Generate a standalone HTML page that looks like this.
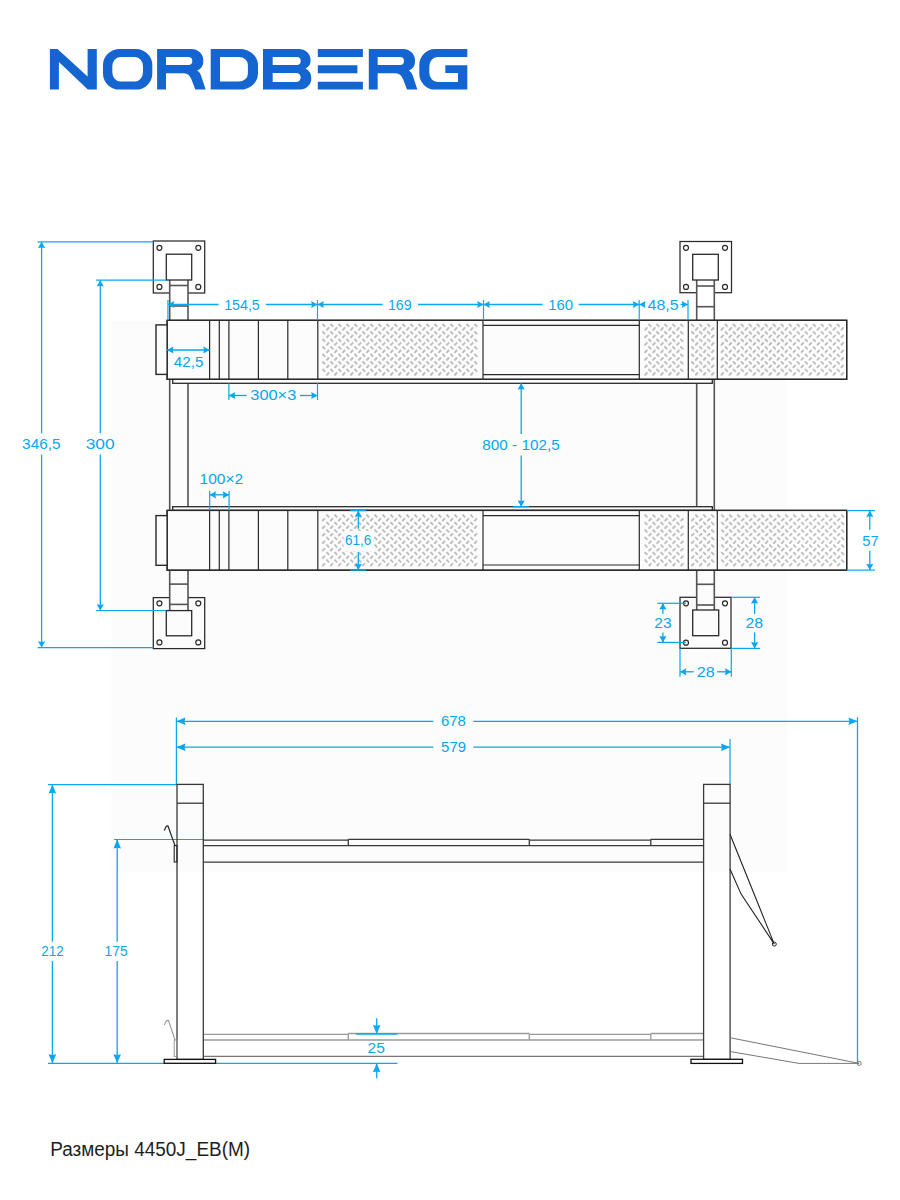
<!DOCTYPE html>
<html><head><meta charset="utf-8"><style>
html,body{margin:0;padding:0;background:#fff;width:900px;height:1200px;overflow:hidden}
svg{display:block;font-family:"Liberation Sans",sans-serif}
</style></head><body>
<svg width="900" height="1200" viewBox="0 0 900 1200">
<path d="M49.9,49 H57.5 L87.6,76.5 V49 H96.8 V89.6 H87.8 L58.9,62.1 V89.6 H49.9 Z" fill="#1565d0"/>
<path d="M119.5,49 H136 A16.3,16 0 0 1 152.3,65 V73.6 A16.3,16 0 0 1 136,89.6 H119.5 A16.5,16 0 0 1 103,73.6 V65 A16.5,16 0 0 1 119.5,49 Z M120.3,57 A8,9.5 0 0 0 112.3,66.5 V72.1 A8,9.5 0 0 0 120.3,81.6 H135 A8,9.5 0 0 0 143,72.1 V66.5 A8,9.5 0 0 0 135,57 Z" fill="#1565d0"/>
<path d="M157.10,49 H191.50 A11.8,11.5 0 0 1 203.30,60.5 A11,10.5 0 0 1 197.20,70.6 Q199.80,72.3 201.00,75.5 L205.70,89.6 H195.30 L191.40,79.2 Q189.00,73.2 184.00,73.2 H166.00 V89.6 H157.10 Z M166.00,56.9 V64.9 H188.30 A4,4 0 0 0 188.30,56.9 Z" fill="#1565d0"/>
<path d="M210.7,49 H240 A18,16 0 0 1 258,65 V73.6 A18,16 0 0 1 240,89.6 H210.7 Z M220,57 V81.6 H238.7 A9.2,8 0 0 0 247.9,73.6 V65 A9.2,8 0 0 0 238.7,57 Z" fill="#1565d0"/>
<path d="M263,49 H299 A11,10.7 0 0 1 310.5,59.5 A10,9 0 0 1 305.5,68.5 A11,11 0 0 1 311.3,78.5 A11.3,11.2 0 0 1 300,89.6 H263 Z M272.7,57 V65 H296.7 A4,4 0 0 0 296.7,57 Z M272.7,73 V82 H296.2 A4.5,4.5 0 0 0 296.2,73 Z" fill="#1565d0"/>
<path d="M317.8,49 H362.9 V57.1 H317.8 Z M317.8,65.3 H357.4 V73.2 H317.8 Z M317.8,81.7 H362.9 V89.6 H317.8 Z" fill="#1565d0"/>
<path d="M368.80,49 H403.20 A11.8,11.5 0 0 1 415.00,60.5 A11,10.5 0 0 1 408.90,70.6 Q411.50,72.3 412.70,75.5 L417.40,89.6 H407.00 L403.10,79.2 Q400.70,73.2 395.70,73.2 H377.70 V89.6 H368.80 Z M377.70,56.9 V64.9 H400.00 A4,4 0 0 0 400.00,56.9 Z" fill="#1565d0"/>
<path d="M435,49 H467.3 V57 H437.5 A8,9.5 0 0 0 429.3,66.5 V72.5 A8,9.5 0 0 0 437.5,82 H458 V73 H445.3 V65.3 H467.3 V89.6 H435 A15.7,16 0 0 1 419.3,73.6 V65 A15.7,16 0 0 1 435,49 Z" fill="#1565d0"/>
<rect x="153.3" y="241" width="51.39999999999998" height="52" stroke="#2a2a2a" stroke-width="1.25" fill="#fff" />
<circle cx="159.4" cy="247.8" r="2.5" stroke="#2a2a2a" stroke-width="1.2" fill="none"/>
<circle cx="198.3" cy="247.8" r="2.5" stroke="#2a2a2a" stroke-width="1.2" fill="none"/>
<circle cx="159.4" cy="286.9" r="2.5" stroke="#2a2a2a" stroke-width="1.2" fill="none"/>
<circle cx="198.3" cy="286.9" r="2.5" stroke="#2a2a2a" stroke-width="1.2" fill="none"/>
<rect x="680" y="241.5" width="51.5" height="51.19999999999999" stroke="#2a2a2a" stroke-width="1.25" fill="#fff" />
<circle cx="686" cy="247.8" r="2.5" stroke="#2a2a2a" stroke-width="1.2" fill="none"/>
<circle cx="725" cy="247.8" r="2.5" stroke="#2a2a2a" stroke-width="1.2" fill="none"/>
<circle cx="686" cy="286.9" r="2.5" stroke="#2a2a2a" stroke-width="1.2" fill="none"/>
<circle cx="725" cy="286.9" r="2.5" stroke="#2a2a2a" stroke-width="1.2" fill="none"/>
<rect x="153.3" y="597.6" width="51.39999999999998" height="51.0" stroke="#2a2a2a" stroke-width="1.25" fill="#fff" />
<circle cx="159.4" cy="603.3" r="2.5" stroke="#2a2a2a" stroke-width="1.2" fill="none"/>
<circle cx="198.3" cy="603.3" r="2.5" stroke="#2a2a2a" stroke-width="1.2" fill="none"/>
<circle cx="159.4" cy="642.4" r="2.5" stroke="#2a2a2a" stroke-width="1.2" fill="none"/>
<circle cx="198.3" cy="642.4" r="2.5" stroke="#2a2a2a" stroke-width="1.2" fill="none"/>
<rect x="680" y="597.3" width="51" height="51.0" stroke="#2a2a2a" stroke-width="1.25" fill="#fff" />
<circle cx="686" cy="603.3" r="2.5" stroke="#2a2a2a" stroke-width="1.2" fill="none"/>
<circle cx="725" cy="603.3" r="2.5" stroke="#2a2a2a" stroke-width="1.2" fill="none"/>
<circle cx="686" cy="642.7" r="2.5" stroke="#2a2a2a" stroke-width="1.2" fill="none"/>
<circle cx="725" cy="642.7" r="2.5" stroke="#2a2a2a" stroke-width="1.2" fill="none"/>
<rect x="169.7" y="280" width="18.30000000000001" height="331" fill="#fff"/>
<line x1="169.7" y1="280" x2="169.7" y2="611" stroke="#555" stroke-width="1.6" />
<line x1="188" y1="280" x2="188" y2="611" stroke="#555" stroke-width="1.6" />
<rect x="696.7" y="280" width="17.59999999999991" height="331" fill="#fff"/>
<line x1="696.7" y1="280" x2="696.7" y2="611" stroke="#555" stroke-width="1.6" />
<line x1="714.3" y1="280" x2="714.3" y2="611" stroke="#555" stroke-width="1.6" />
<line x1="169.7" y1="285.5" x2="188" y2="285.5" stroke="#555" stroke-width="1.6" />
<line x1="169.7" y1="306" x2="188" y2="306" stroke="#555" stroke-width="1.6" />
<line x1="169.7" y1="584.1" x2="188" y2="584.1" stroke="#555" stroke-width="1.6" />
<line x1="169.7" y1="604.4" x2="188" y2="604.4" stroke="#555" stroke-width="1.6" />
<line x1="696.7" y1="286" x2="714.3" y2="286" stroke="#555" stroke-width="1.6" />
<line x1="696.7" y1="306.7" x2="714.3" y2="306.7" stroke="#555" stroke-width="1.6" />
<line x1="696.7" y1="584.3" x2="714.3" y2="584.3" stroke="#555" stroke-width="1.6" />
<line x1="696.7" y1="605" x2="714.3" y2="605" stroke="#555" stroke-width="1.6" />
<rect x="166.3" y="254.2" width="25.4" height="25.8" stroke="#2a2a2a" stroke-width="1.3" fill="#fff" />
<rect x="692.7" y="254.3" width="25.6" height="25.7" stroke="#2a2a2a" stroke-width="1.3" fill="#fff" />
<rect x="166.3" y="610.6" width="25.4" height="25.2" stroke="#2a2a2a" stroke-width="1.3" fill="#fff" />
<rect x="692.7" y="610" width="26" height="25.7" stroke="#2a2a2a" stroke-width="1.3" fill="#fff" />
<rect x="172.7" y="379.3" width="539.5999999999999" height="4.0" stroke="#2a2a2a" stroke-width="1.3" fill="#fff" />
<rect x="167.1" y="320.3" width="679.6" height="59.0" stroke="#2a2a2a" stroke-width="1.3" fill="#fff" />
<path d="M323.00,324.45l1.60,1.70M331.00,324.45l1.60,1.70M339.00,324.45l1.60,1.70M347.00,324.45l1.60,1.70M355.00,324.45l1.60,1.70M363.00,324.45l1.60,1.70M371.00,324.45l1.60,1.70M379.00,324.45l1.60,1.70M387.00,324.45l1.60,1.70M395.00,324.45l1.60,1.70M403.00,324.45l1.60,1.70M411.00,324.45l1.60,1.70M419.00,324.45l1.60,1.70M427.00,324.45l1.60,1.70M435.00,324.45l1.60,1.70M443.00,324.45l1.60,1.70M451.00,324.45l1.60,1.70M459.00,324.45l1.60,1.70M467.00,324.45l1.60,1.70M475.00,324.45l1.60,1.70M323.00,331.95l1.60,1.70M331.00,331.95l1.60,1.70M339.00,331.95l1.60,1.70M347.00,331.95l1.60,1.70M355.00,331.95l1.60,1.70M363.00,331.95l1.60,1.70M371.00,331.95l1.60,1.70M379.00,331.95l1.60,1.70M387.00,331.95l1.60,1.70M395.00,331.95l1.60,1.70M403.00,331.95l1.60,1.70M411.00,331.95l1.60,1.70M419.00,331.95l1.60,1.70M427.00,331.95l1.60,1.70M435.00,331.95l1.60,1.70M443.00,331.95l1.60,1.70M451.00,331.95l1.60,1.70M459.00,331.95l1.60,1.70M467.00,331.95l1.60,1.70M475.00,331.95l1.60,1.70M323.00,339.45l1.60,1.70M331.00,339.45l1.60,1.70M339.00,339.45l1.60,1.70M347.00,339.45l1.60,1.70M355.00,339.45l1.60,1.70M363.00,339.45l1.60,1.70M371.00,339.45l1.60,1.70M379.00,339.45l1.60,1.70M387.00,339.45l1.60,1.70M395.00,339.45l1.60,1.70M403.00,339.45l1.60,1.70M411.00,339.45l1.60,1.70M419.00,339.45l1.60,1.70M427.00,339.45l1.60,1.70M435.00,339.45l1.60,1.70M443.00,339.45l1.60,1.70M451.00,339.45l1.60,1.70M459.00,339.45l1.60,1.70M467.00,339.45l1.60,1.70M475.00,339.45l1.60,1.70M323.00,346.95l1.60,1.70M331.00,346.95l1.60,1.70M339.00,346.95l1.60,1.70M347.00,346.95l1.60,1.70M355.00,346.95l1.60,1.70M363.00,346.95l1.60,1.70M371.00,346.95l1.60,1.70M379.00,346.95l1.60,1.70M387.00,346.95l1.60,1.70M395.00,346.95l1.60,1.70M403.00,346.95l1.60,1.70M411.00,346.95l1.60,1.70M419.00,346.95l1.60,1.70M427.00,346.95l1.60,1.70M435.00,346.95l1.60,1.70M443.00,346.95l1.60,1.70M451.00,346.95l1.60,1.70M459.00,346.95l1.60,1.70M467.00,346.95l1.60,1.70M475.00,346.95l1.60,1.70M323.00,354.45l1.60,1.70M331.00,354.45l1.60,1.70M339.00,354.45l1.60,1.70M347.00,354.45l1.60,1.70M355.00,354.45l1.60,1.70M363.00,354.45l1.60,1.70M371.00,354.45l1.60,1.70M379.00,354.45l1.60,1.70M387.00,354.45l1.60,1.70M395.00,354.45l1.60,1.70M403.00,354.45l1.60,1.70M411.00,354.45l1.60,1.70M419.00,354.45l1.60,1.70M427.00,354.45l1.60,1.70M435.00,354.45l1.60,1.70M443.00,354.45l1.60,1.70M451.00,354.45l1.60,1.70M459.00,354.45l1.60,1.70M467.00,354.45l1.60,1.70M475.00,354.45l1.60,1.70M323.00,361.95l1.60,1.70M331.00,361.95l1.60,1.70M339.00,361.95l1.60,1.70M347.00,361.95l1.60,1.70M355.00,361.95l1.60,1.70M363.00,361.95l1.60,1.70M371.00,361.95l1.60,1.70M379.00,361.95l1.60,1.70M387.00,361.95l1.60,1.70M395.00,361.95l1.60,1.70M403.00,361.95l1.60,1.70M411.00,361.95l1.60,1.70M419.00,361.95l1.60,1.70M427.00,361.95l1.60,1.70M435.00,361.95l1.60,1.70M443.00,361.95l1.60,1.70M451.00,361.95l1.60,1.70M459.00,361.95l1.60,1.70M467.00,361.95l1.60,1.70M475.00,361.95l1.60,1.70M323.00,369.45l1.60,1.70M331.00,369.45l1.60,1.70M339.00,369.45l1.60,1.70M347.00,369.45l1.60,1.70M355.00,369.45l1.60,1.70M363.00,369.45l1.60,1.70M371.00,369.45l1.60,1.70M379.00,369.45l1.60,1.70M387.00,369.45l1.60,1.70M395.00,369.45l1.60,1.70M403.00,369.45l1.60,1.70M411.00,369.45l1.60,1.70M419.00,369.45l1.60,1.70M427.00,369.45l1.60,1.70M435.00,369.45l1.60,1.70M443.00,369.45l1.60,1.70M451.00,369.45l1.60,1.70M459.00,369.45l1.60,1.70M467.00,369.45l1.60,1.70M475.00,369.45l1.60,1.70M327.00,329.75l1.60,-1.70M335.00,329.75l1.60,-1.70M343.00,329.75l1.60,-1.70M351.00,329.75l1.60,-1.70M359.00,329.75l1.60,-1.70M367.00,329.75l1.60,-1.70M375.00,329.75l1.60,-1.70M383.00,329.75l1.60,-1.70M391.00,329.75l1.60,-1.70M399.00,329.75l1.60,-1.70M407.00,329.75l1.60,-1.70M415.00,329.75l1.60,-1.70M423.00,329.75l1.60,-1.70M431.00,329.75l1.60,-1.70M439.00,329.75l1.60,-1.70M447.00,329.75l1.60,-1.70M455.00,329.75l1.60,-1.70M463.00,329.75l1.60,-1.70M471.00,329.75l1.60,-1.70M327.00,337.25l1.60,-1.70M335.00,337.25l1.60,-1.70M343.00,337.25l1.60,-1.70M351.00,337.25l1.60,-1.70M359.00,337.25l1.60,-1.70M367.00,337.25l1.60,-1.70M375.00,337.25l1.60,-1.70M383.00,337.25l1.60,-1.70M391.00,337.25l1.60,-1.70M399.00,337.25l1.60,-1.70M407.00,337.25l1.60,-1.70M415.00,337.25l1.60,-1.70M423.00,337.25l1.60,-1.70M431.00,337.25l1.60,-1.70M439.00,337.25l1.60,-1.70M447.00,337.25l1.60,-1.70M455.00,337.25l1.60,-1.70M463.00,337.25l1.60,-1.70M471.00,337.25l1.60,-1.70M327.00,344.75l1.60,-1.70M335.00,344.75l1.60,-1.70M343.00,344.75l1.60,-1.70M351.00,344.75l1.60,-1.70M359.00,344.75l1.60,-1.70M367.00,344.75l1.60,-1.70M375.00,344.75l1.60,-1.70M383.00,344.75l1.60,-1.70M391.00,344.75l1.60,-1.70M399.00,344.75l1.60,-1.70M407.00,344.75l1.60,-1.70M415.00,344.75l1.60,-1.70M423.00,344.75l1.60,-1.70M431.00,344.75l1.60,-1.70M439.00,344.75l1.60,-1.70M447.00,344.75l1.60,-1.70M455.00,344.75l1.60,-1.70M463.00,344.75l1.60,-1.70M471.00,344.75l1.60,-1.70M327.00,352.25l1.60,-1.70M335.00,352.25l1.60,-1.70M343.00,352.25l1.60,-1.70M351.00,352.25l1.60,-1.70M359.00,352.25l1.60,-1.70M367.00,352.25l1.60,-1.70M375.00,352.25l1.60,-1.70M383.00,352.25l1.60,-1.70M391.00,352.25l1.60,-1.70M399.00,352.25l1.60,-1.70M407.00,352.25l1.60,-1.70M415.00,352.25l1.60,-1.70M423.00,352.25l1.60,-1.70M431.00,352.25l1.60,-1.70M439.00,352.25l1.60,-1.70M447.00,352.25l1.60,-1.70M455.00,352.25l1.60,-1.70M463.00,352.25l1.60,-1.70M471.00,352.25l1.60,-1.70M327.00,359.75l1.60,-1.70M335.00,359.75l1.60,-1.70M343.00,359.75l1.60,-1.70M351.00,359.75l1.60,-1.70M359.00,359.75l1.60,-1.70M367.00,359.75l1.60,-1.70M375.00,359.75l1.60,-1.70M383.00,359.75l1.60,-1.70M391.00,359.75l1.60,-1.70M399.00,359.75l1.60,-1.70M407.00,359.75l1.60,-1.70M415.00,359.75l1.60,-1.70M423.00,359.75l1.60,-1.70M431.00,359.75l1.60,-1.70M439.00,359.75l1.60,-1.70M447.00,359.75l1.60,-1.70M455.00,359.75l1.60,-1.70M463.00,359.75l1.60,-1.70M471.00,359.75l1.60,-1.70M327.00,367.25l1.60,-1.70M335.00,367.25l1.60,-1.70M343.00,367.25l1.60,-1.70M351.00,367.25l1.60,-1.70M359.00,367.25l1.60,-1.70M367.00,367.25l1.60,-1.70M375.00,367.25l1.60,-1.70M383.00,367.25l1.60,-1.70M391.00,367.25l1.60,-1.70M399.00,367.25l1.60,-1.70M407.00,367.25l1.60,-1.70M415.00,367.25l1.60,-1.70M423.00,367.25l1.60,-1.70M431.00,367.25l1.60,-1.70M439.00,367.25l1.60,-1.70M447.00,367.25l1.60,-1.70M455.00,367.25l1.60,-1.70M463.00,367.25l1.60,-1.70M471.00,367.25l1.60,-1.70M327.00,374.75l1.60,-1.70M335.00,374.75l1.60,-1.70M343.00,374.75l1.60,-1.70M351.00,374.75l1.60,-1.70M359.00,374.75l1.60,-1.70M367.00,374.75l1.60,-1.70M375.00,374.75l1.60,-1.70M383.00,374.75l1.60,-1.70M391.00,374.75l1.60,-1.70M399.00,374.75l1.60,-1.70M407.00,374.75l1.60,-1.70M415.00,374.75l1.60,-1.70M423.00,374.75l1.60,-1.70M431.00,374.75l1.60,-1.70M439.00,374.75l1.60,-1.70M447.00,374.75l1.60,-1.70M455.00,374.75l1.60,-1.70M463.00,374.75l1.60,-1.70M471.00,374.75l1.60,-1.70" stroke="#c2c2c2" stroke-width="2.0" stroke-linecap="round" fill="none"/>
<path d="M649.00,324.45l1.60,1.70M657.00,324.45l1.60,1.70M665.00,324.45l1.60,1.70M673.00,324.45l1.60,1.70M681.00,324.45l1.60,1.70M649.00,331.95l1.60,1.70M657.00,331.95l1.60,1.70M665.00,331.95l1.60,1.70M673.00,331.95l1.60,1.70M681.00,331.95l1.60,1.70M649.00,339.45l1.60,1.70M657.00,339.45l1.60,1.70M665.00,339.45l1.60,1.70M673.00,339.45l1.60,1.70M681.00,339.45l1.60,1.70M649.00,346.95l1.60,1.70M657.00,346.95l1.60,1.70M665.00,346.95l1.60,1.70M673.00,346.95l1.60,1.70M681.00,346.95l1.60,1.70M649.00,354.45l1.60,1.70M657.00,354.45l1.60,1.70M665.00,354.45l1.60,1.70M673.00,354.45l1.60,1.70M681.00,354.45l1.60,1.70M649.00,361.95l1.60,1.70M657.00,361.95l1.60,1.70M665.00,361.95l1.60,1.70M673.00,361.95l1.60,1.70M681.00,361.95l1.60,1.70M649.00,369.45l1.60,1.70M657.00,369.45l1.60,1.70M665.00,369.45l1.60,1.70M673.00,369.45l1.60,1.70M681.00,369.45l1.60,1.70M645.20,329.75l1.60,-1.70M653.20,329.75l1.60,-1.70M661.20,329.75l1.60,-1.70M669.20,329.75l1.60,-1.70M677.20,329.75l1.60,-1.70M645.20,337.25l1.60,-1.70M653.20,337.25l1.60,-1.70M661.20,337.25l1.60,-1.70M669.20,337.25l1.60,-1.70M677.20,337.25l1.60,-1.70M645.20,344.75l1.60,-1.70M653.20,344.75l1.60,-1.70M661.20,344.75l1.60,-1.70M669.20,344.75l1.60,-1.70M677.20,344.75l1.60,-1.70M645.20,352.25l1.60,-1.70M653.20,352.25l1.60,-1.70M661.20,352.25l1.60,-1.70M669.20,352.25l1.60,-1.70M677.20,352.25l1.60,-1.70M645.20,359.75l1.60,-1.70M653.20,359.75l1.60,-1.70M661.20,359.75l1.60,-1.70M669.20,359.75l1.60,-1.70M677.20,359.75l1.60,-1.70M645.20,367.25l1.60,-1.70M653.20,367.25l1.60,-1.70M661.20,367.25l1.60,-1.70M669.20,367.25l1.60,-1.70M677.20,367.25l1.60,-1.70M645.20,374.75l1.60,-1.70M653.20,374.75l1.60,-1.70M661.20,374.75l1.60,-1.70M669.20,374.75l1.60,-1.70M677.20,374.75l1.60,-1.70" stroke="#c2c2c2" stroke-width="2.0" stroke-linecap="round" fill="none"/>
<path d="M691.90,324.45l1.60,1.70M699.90,324.45l1.60,1.70M707.90,324.45l1.60,1.70M691.90,331.95l1.60,1.70M699.90,331.95l1.60,1.70M707.90,331.95l1.60,1.70M691.90,339.45l1.60,1.70M699.90,339.45l1.60,1.70M707.90,339.45l1.60,1.70M691.90,346.95l1.60,1.70M699.90,346.95l1.60,1.70M707.90,346.95l1.60,1.70M691.90,354.45l1.60,1.70M699.90,354.45l1.60,1.70M707.90,354.45l1.60,1.70M691.90,361.95l1.60,1.70M699.90,361.95l1.60,1.70M707.90,361.95l1.60,1.70M691.90,369.45l1.60,1.70M699.90,369.45l1.60,1.70M707.90,369.45l1.60,1.70M695.90,329.75l1.60,-1.70M703.90,329.75l1.60,-1.70M711.90,329.75l1.60,-1.70M695.90,337.25l1.60,-1.70M703.90,337.25l1.60,-1.70M711.90,337.25l1.60,-1.70M695.90,344.75l1.60,-1.70M703.90,344.75l1.60,-1.70M711.90,344.75l1.60,-1.70M695.90,352.25l1.60,-1.70M703.90,352.25l1.60,-1.70M711.90,352.25l1.60,-1.70M695.90,359.75l1.60,-1.70M703.90,359.75l1.60,-1.70M711.90,359.75l1.60,-1.70M695.90,367.25l1.60,-1.70M703.90,367.25l1.60,-1.70M711.90,367.25l1.60,-1.70M695.90,374.75l1.60,-1.70M703.90,374.75l1.60,-1.70M711.90,374.75l1.60,-1.70" stroke="#c2c2c2" stroke-width="2.0" stroke-linecap="round" fill="none"/>
<path d="M725.50,324.45l1.60,1.70M733.50,324.45l1.60,1.70M741.50,324.45l1.60,1.70M749.50,324.45l1.60,1.70M757.50,324.45l1.60,1.70M765.50,324.45l1.60,1.70M773.50,324.45l1.60,1.70M781.50,324.45l1.60,1.70M789.50,324.45l1.60,1.70M797.50,324.45l1.60,1.70M805.50,324.45l1.60,1.70M813.50,324.45l1.60,1.70M821.50,324.45l1.60,1.70M829.50,324.45l1.60,1.70M837.50,324.45l1.60,1.70M725.50,331.95l1.60,1.70M733.50,331.95l1.60,1.70M741.50,331.95l1.60,1.70M749.50,331.95l1.60,1.70M757.50,331.95l1.60,1.70M765.50,331.95l1.60,1.70M773.50,331.95l1.60,1.70M781.50,331.95l1.60,1.70M789.50,331.95l1.60,1.70M797.50,331.95l1.60,1.70M805.50,331.95l1.60,1.70M813.50,331.95l1.60,1.70M821.50,331.95l1.60,1.70M829.50,331.95l1.60,1.70M837.50,331.95l1.60,1.70M725.50,339.45l1.60,1.70M733.50,339.45l1.60,1.70M741.50,339.45l1.60,1.70M749.50,339.45l1.60,1.70M757.50,339.45l1.60,1.70M765.50,339.45l1.60,1.70M773.50,339.45l1.60,1.70M781.50,339.45l1.60,1.70M789.50,339.45l1.60,1.70M797.50,339.45l1.60,1.70M805.50,339.45l1.60,1.70M813.50,339.45l1.60,1.70M821.50,339.45l1.60,1.70M829.50,339.45l1.60,1.70M837.50,339.45l1.60,1.70M725.50,346.95l1.60,1.70M733.50,346.95l1.60,1.70M741.50,346.95l1.60,1.70M749.50,346.95l1.60,1.70M757.50,346.95l1.60,1.70M765.50,346.95l1.60,1.70M773.50,346.95l1.60,1.70M781.50,346.95l1.60,1.70M789.50,346.95l1.60,1.70M797.50,346.95l1.60,1.70M805.50,346.95l1.60,1.70M813.50,346.95l1.60,1.70M821.50,346.95l1.60,1.70M829.50,346.95l1.60,1.70M837.50,346.95l1.60,1.70M725.50,354.45l1.60,1.70M733.50,354.45l1.60,1.70M741.50,354.45l1.60,1.70M749.50,354.45l1.60,1.70M757.50,354.45l1.60,1.70M765.50,354.45l1.60,1.70M773.50,354.45l1.60,1.70M781.50,354.45l1.60,1.70M789.50,354.45l1.60,1.70M797.50,354.45l1.60,1.70M805.50,354.45l1.60,1.70M813.50,354.45l1.60,1.70M821.50,354.45l1.60,1.70M829.50,354.45l1.60,1.70M837.50,354.45l1.60,1.70M725.50,361.95l1.60,1.70M733.50,361.95l1.60,1.70M741.50,361.95l1.60,1.70M749.50,361.95l1.60,1.70M757.50,361.95l1.60,1.70M765.50,361.95l1.60,1.70M773.50,361.95l1.60,1.70M781.50,361.95l1.60,1.70M789.50,361.95l1.60,1.70M797.50,361.95l1.60,1.70M805.50,361.95l1.60,1.70M813.50,361.95l1.60,1.70M821.50,361.95l1.60,1.70M829.50,361.95l1.60,1.70M837.50,361.95l1.60,1.70M725.50,369.45l1.60,1.70M733.50,369.45l1.60,1.70M741.50,369.45l1.60,1.70M749.50,369.45l1.60,1.70M757.50,369.45l1.60,1.70M765.50,369.45l1.60,1.70M773.50,369.45l1.60,1.70M781.50,369.45l1.60,1.70M789.50,369.45l1.60,1.70M797.50,369.45l1.60,1.70M805.50,369.45l1.60,1.70M813.50,369.45l1.60,1.70M821.50,369.45l1.60,1.70M829.50,369.45l1.60,1.70M837.50,369.45l1.60,1.70M721.50,329.75l1.60,-1.70M729.50,329.75l1.60,-1.70M737.50,329.75l1.60,-1.70M745.50,329.75l1.60,-1.70M753.50,329.75l1.60,-1.70M761.50,329.75l1.60,-1.70M769.50,329.75l1.60,-1.70M777.50,329.75l1.60,-1.70M785.50,329.75l1.60,-1.70M793.50,329.75l1.60,-1.70M801.50,329.75l1.60,-1.70M809.50,329.75l1.60,-1.70M817.50,329.75l1.60,-1.70M825.50,329.75l1.60,-1.70M833.50,329.75l1.60,-1.70M841.50,329.75l1.60,-1.70M721.50,337.25l1.60,-1.70M729.50,337.25l1.60,-1.70M737.50,337.25l1.60,-1.70M745.50,337.25l1.60,-1.70M753.50,337.25l1.60,-1.70M761.50,337.25l1.60,-1.70M769.50,337.25l1.60,-1.70M777.50,337.25l1.60,-1.70M785.50,337.25l1.60,-1.70M793.50,337.25l1.60,-1.70M801.50,337.25l1.60,-1.70M809.50,337.25l1.60,-1.70M817.50,337.25l1.60,-1.70M825.50,337.25l1.60,-1.70M833.50,337.25l1.60,-1.70M841.50,337.25l1.60,-1.70M721.50,344.75l1.60,-1.70M729.50,344.75l1.60,-1.70M737.50,344.75l1.60,-1.70M745.50,344.75l1.60,-1.70M753.50,344.75l1.60,-1.70M761.50,344.75l1.60,-1.70M769.50,344.75l1.60,-1.70M777.50,344.75l1.60,-1.70M785.50,344.75l1.60,-1.70M793.50,344.75l1.60,-1.70M801.50,344.75l1.60,-1.70M809.50,344.75l1.60,-1.70M817.50,344.75l1.60,-1.70M825.50,344.75l1.60,-1.70M833.50,344.75l1.60,-1.70M841.50,344.75l1.60,-1.70M721.50,352.25l1.60,-1.70M729.50,352.25l1.60,-1.70M737.50,352.25l1.60,-1.70M745.50,352.25l1.60,-1.70M753.50,352.25l1.60,-1.70M761.50,352.25l1.60,-1.70M769.50,352.25l1.60,-1.70M777.50,352.25l1.60,-1.70M785.50,352.25l1.60,-1.70M793.50,352.25l1.60,-1.70M801.50,352.25l1.60,-1.70M809.50,352.25l1.60,-1.70M817.50,352.25l1.60,-1.70M825.50,352.25l1.60,-1.70M833.50,352.25l1.60,-1.70M841.50,352.25l1.60,-1.70M721.50,359.75l1.60,-1.70M729.50,359.75l1.60,-1.70M737.50,359.75l1.60,-1.70M745.50,359.75l1.60,-1.70M753.50,359.75l1.60,-1.70M761.50,359.75l1.60,-1.70M769.50,359.75l1.60,-1.70M777.50,359.75l1.60,-1.70M785.50,359.75l1.60,-1.70M793.50,359.75l1.60,-1.70M801.50,359.75l1.60,-1.70M809.50,359.75l1.60,-1.70M817.50,359.75l1.60,-1.70M825.50,359.75l1.60,-1.70M833.50,359.75l1.60,-1.70M841.50,359.75l1.60,-1.70M721.50,367.25l1.60,-1.70M729.50,367.25l1.60,-1.70M737.50,367.25l1.60,-1.70M745.50,367.25l1.60,-1.70M753.50,367.25l1.60,-1.70M761.50,367.25l1.60,-1.70M769.50,367.25l1.60,-1.70M777.50,367.25l1.60,-1.70M785.50,367.25l1.60,-1.70M793.50,367.25l1.60,-1.70M801.50,367.25l1.60,-1.70M809.50,367.25l1.60,-1.70M817.50,367.25l1.60,-1.70M825.50,367.25l1.60,-1.70M833.50,367.25l1.60,-1.70M841.50,367.25l1.60,-1.70M721.50,374.75l1.60,-1.70M729.50,374.75l1.60,-1.70M737.50,374.75l1.60,-1.70M745.50,374.75l1.60,-1.70M753.50,374.75l1.60,-1.70M761.50,374.75l1.60,-1.70M769.50,374.75l1.60,-1.70M777.50,374.75l1.60,-1.70M785.50,374.75l1.60,-1.70M793.50,374.75l1.60,-1.70M801.50,374.75l1.60,-1.70M809.50,374.75l1.60,-1.70M817.50,374.75l1.60,-1.70M825.50,374.75l1.60,-1.70M833.50,374.75l1.60,-1.70M841.50,374.75l1.60,-1.70" stroke="#c2c2c2" stroke-width="2.0" stroke-linecap="round" fill="none"/>
<rect x="167.1" y="320.3" width="679.6" height="59.0" stroke="#2a2a2a" stroke-width="1.3" fill="none" />
<rect x="156" y="324.9" width="11.1" height="49.5" stroke="#2a2a2a" stroke-width="1.4" fill="#fff" />
<line x1="209.6" y1="320.3" x2="209.6" y2="379.3" stroke="#2a2a2a" stroke-width="1.2" />
<line x1="219.3" y1="320.3" x2="219.3" y2="379.3" stroke="#2a2a2a" stroke-width="1.2" />
<line x1="228.9" y1="320.3" x2="228.9" y2="379.3" stroke="#2a2a2a" stroke-width="1.2" />
<line x1="258.4" y1="320.3" x2="258.4" y2="379.3" stroke="#2a2a2a" stroke-width="1.2" />
<line x1="287.8" y1="320.3" x2="287.8" y2="379.3" stroke="#2a2a2a" stroke-width="1.2" />
<line x1="317.8" y1="320.3" x2="317.8" y2="379.3" stroke="#2a2a2a" stroke-width="1.2" />
<line x1="483" y1="320.3" x2="483" y2="379.3" stroke="#2a2a2a" stroke-width="1.2" />
<line x1="639.3" y1="320.3" x2="639.3" y2="379.3" stroke="#2a2a2a" stroke-width="1.2" />
<line x1="688.3" y1="320.3" x2="688.3" y2="379.3" stroke="#2a2a2a" stroke-width="1.2" />
<line x1="717.3" y1="320.3" x2="717.3" y2="379.3" stroke="#2a2a2a" stroke-width="1.2" />
<line x1="483" y1="325.3" x2="639.3" y2="325.3" stroke="#2a2a2a" stroke-width="1.2" />
<line x1="483" y1="374.6" x2="639.3" y2="374.6" stroke="#2a2a2a" stroke-width="1.2" />
<rect x="172.7" y="506.7" width="539.5999999999999" height="3.6999999999999886" stroke="#2a2a2a" stroke-width="1.3" fill="#fff" />
<rect x="167.1" y="510.4" width="679.6" height="59.80000000000007" stroke="#2a2a2a" stroke-width="1.3" fill="#fff" />
<path d="M327.00,515.15l1.60,1.70M335.00,515.15l1.60,1.70M343.00,515.15l1.60,1.70M351.00,515.15l1.60,1.70M359.00,515.15l1.60,1.70M367.00,515.15l1.60,1.70M375.00,515.15l1.60,1.70M383.00,515.15l1.60,1.70M391.00,515.15l1.60,1.70M399.00,515.15l1.60,1.70M407.00,515.15l1.60,1.70M415.00,515.15l1.60,1.70M423.00,515.15l1.60,1.70M431.00,515.15l1.60,1.70M439.00,515.15l1.60,1.70M447.00,515.15l1.60,1.70M455.00,515.15l1.60,1.70M463.00,515.15l1.60,1.70M471.00,515.15l1.60,1.70M327.00,522.65l1.60,1.70M335.00,522.65l1.60,1.70M343.00,522.65l1.60,1.70M351.00,522.65l1.60,1.70M359.00,522.65l1.60,1.70M367.00,522.65l1.60,1.70M375.00,522.65l1.60,1.70M383.00,522.65l1.60,1.70M391.00,522.65l1.60,1.70M399.00,522.65l1.60,1.70M407.00,522.65l1.60,1.70M415.00,522.65l1.60,1.70M423.00,522.65l1.60,1.70M431.00,522.65l1.60,1.70M439.00,522.65l1.60,1.70M447.00,522.65l1.60,1.70M455.00,522.65l1.60,1.70M463.00,522.65l1.60,1.70M471.00,522.65l1.60,1.70M327.00,530.15l1.60,1.70M335.00,530.15l1.60,1.70M343.00,530.15l1.60,1.70M351.00,530.15l1.60,1.70M359.00,530.15l1.60,1.70M367.00,530.15l1.60,1.70M375.00,530.15l1.60,1.70M383.00,530.15l1.60,1.70M391.00,530.15l1.60,1.70M399.00,530.15l1.60,1.70M407.00,530.15l1.60,1.70M415.00,530.15l1.60,1.70M423.00,530.15l1.60,1.70M431.00,530.15l1.60,1.70M439.00,530.15l1.60,1.70M447.00,530.15l1.60,1.70M455.00,530.15l1.60,1.70M463.00,530.15l1.60,1.70M471.00,530.15l1.60,1.70M327.00,537.65l1.60,1.70M335.00,537.65l1.60,1.70M343.00,537.65l1.60,1.70M351.00,537.65l1.60,1.70M359.00,537.65l1.60,1.70M367.00,537.65l1.60,1.70M375.00,537.65l1.60,1.70M383.00,537.65l1.60,1.70M391.00,537.65l1.60,1.70M399.00,537.65l1.60,1.70M407.00,537.65l1.60,1.70M415.00,537.65l1.60,1.70M423.00,537.65l1.60,1.70M431.00,537.65l1.60,1.70M439.00,537.65l1.60,1.70M447.00,537.65l1.60,1.70M455.00,537.65l1.60,1.70M463.00,537.65l1.60,1.70M471.00,537.65l1.60,1.70M327.00,545.15l1.60,1.70M335.00,545.15l1.60,1.70M343.00,545.15l1.60,1.70M351.00,545.15l1.60,1.70M359.00,545.15l1.60,1.70M367.00,545.15l1.60,1.70M375.00,545.15l1.60,1.70M383.00,545.15l1.60,1.70M391.00,545.15l1.60,1.70M399.00,545.15l1.60,1.70M407.00,545.15l1.60,1.70M415.00,545.15l1.60,1.70M423.00,545.15l1.60,1.70M431.00,545.15l1.60,1.70M439.00,545.15l1.60,1.70M447.00,545.15l1.60,1.70M455.00,545.15l1.60,1.70M463.00,545.15l1.60,1.70M471.00,545.15l1.60,1.70M327.00,552.65l1.60,1.70M335.00,552.65l1.60,1.70M343.00,552.65l1.60,1.70M351.00,552.65l1.60,1.70M359.00,552.65l1.60,1.70M367.00,552.65l1.60,1.70M375.00,552.65l1.60,1.70M383.00,552.65l1.60,1.70M391.00,552.65l1.60,1.70M399.00,552.65l1.60,1.70M407.00,552.65l1.60,1.70M415.00,552.65l1.60,1.70M423.00,552.65l1.60,1.70M431.00,552.65l1.60,1.70M439.00,552.65l1.60,1.70M447.00,552.65l1.60,1.70M455.00,552.65l1.60,1.70M463.00,552.65l1.60,1.70M471.00,552.65l1.60,1.70M327.00,560.15l1.60,1.70M335.00,560.15l1.60,1.70M343.00,560.15l1.60,1.70M351.00,560.15l1.60,1.70M359.00,560.15l1.60,1.70M367.00,560.15l1.60,1.70M375.00,560.15l1.60,1.70M383.00,560.15l1.60,1.70M391.00,560.15l1.60,1.70M399.00,560.15l1.60,1.70M407.00,560.15l1.60,1.70M415.00,560.15l1.60,1.70M423.00,560.15l1.60,1.70M431.00,560.15l1.60,1.70M439.00,560.15l1.60,1.70M447.00,560.15l1.60,1.70M455.00,560.15l1.60,1.70M463.00,560.15l1.60,1.70M471.00,560.15l1.60,1.70M322.80,520.55l1.60,-1.70M330.80,520.55l1.60,-1.70M338.80,520.55l1.60,-1.70M346.80,520.55l1.60,-1.70M354.80,520.55l1.60,-1.70M362.80,520.55l1.60,-1.70M370.80,520.55l1.60,-1.70M378.80,520.55l1.60,-1.70M386.80,520.55l1.60,-1.70M394.80,520.55l1.60,-1.70M402.80,520.55l1.60,-1.70M410.80,520.55l1.60,-1.70M418.80,520.55l1.60,-1.70M426.80,520.55l1.60,-1.70M434.80,520.55l1.60,-1.70M442.80,520.55l1.60,-1.70M450.80,520.55l1.60,-1.70M458.80,520.55l1.60,-1.70M466.80,520.55l1.60,-1.70M474.80,520.55l1.60,-1.70M322.80,528.05l1.60,-1.70M330.80,528.05l1.60,-1.70M338.80,528.05l1.60,-1.70M346.80,528.05l1.60,-1.70M354.80,528.05l1.60,-1.70M362.80,528.05l1.60,-1.70M370.80,528.05l1.60,-1.70M378.80,528.05l1.60,-1.70M386.80,528.05l1.60,-1.70M394.80,528.05l1.60,-1.70M402.80,528.05l1.60,-1.70M410.80,528.05l1.60,-1.70M418.80,528.05l1.60,-1.70M426.80,528.05l1.60,-1.70M434.80,528.05l1.60,-1.70M442.80,528.05l1.60,-1.70M450.80,528.05l1.60,-1.70M458.80,528.05l1.60,-1.70M466.80,528.05l1.60,-1.70M474.80,528.05l1.60,-1.70M322.80,535.55l1.60,-1.70M330.80,535.55l1.60,-1.70M338.80,535.55l1.60,-1.70M346.80,535.55l1.60,-1.70M354.80,535.55l1.60,-1.70M362.80,535.55l1.60,-1.70M370.80,535.55l1.60,-1.70M378.80,535.55l1.60,-1.70M386.80,535.55l1.60,-1.70M394.80,535.55l1.60,-1.70M402.80,535.55l1.60,-1.70M410.80,535.55l1.60,-1.70M418.80,535.55l1.60,-1.70M426.80,535.55l1.60,-1.70M434.80,535.55l1.60,-1.70M442.80,535.55l1.60,-1.70M450.80,535.55l1.60,-1.70M458.80,535.55l1.60,-1.70M466.80,535.55l1.60,-1.70M474.80,535.55l1.60,-1.70M322.80,543.05l1.60,-1.70M330.80,543.05l1.60,-1.70M338.80,543.05l1.60,-1.70M346.80,543.05l1.60,-1.70M354.80,543.05l1.60,-1.70M362.80,543.05l1.60,-1.70M370.80,543.05l1.60,-1.70M378.80,543.05l1.60,-1.70M386.80,543.05l1.60,-1.70M394.80,543.05l1.60,-1.70M402.80,543.05l1.60,-1.70M410.80,543.05l1.60,-1.70M418.80,543.05l1.60,-1.70M426.80,543.05l1.60,-1.70M434.80,543.05l1.60,-1.70M442.80,543.05l1.60,-1.70M450.80,543.05l1.60,-1.70M458.80,543.05l1.60,-1.70M466.80,543.05l1.60,-1.70M474.80,543.05l1.60,-1.70M322.80,550.55l1.60,-1.70M330.80,550.55l1.60,-1.70M338.80,550.55l1.60,-1.70M346.80,550.55l1.60,-1.70M354.80,550.55l1.60,-1.70M362.80,550.55l1.60,-1.70M370.80,550.55l1.60,-1.70M378.80,550.55l1.60,-1.70M386.80,550.55l1.60,-1.70M394.80,550.55l1.60,-1.70M402.80,550.55l1.60,-1.70M410.80,550.55l1.60,-1.70M418.80,550.55l1.60,-1.70M426.80,550.55l1.60,-1.70M434.80,550.55l1.60,-1.70M442.80,550.55l1.60,-1.70M450.80,550.55l1.60,-1.70M458.80,550.55l1.60,-1.70M466.80,550.55l1.60,-1.70M474.80,550.55l1.60,-1.70M322.80,558.05l1.60,-1.70M330.80,558.05l1.60,-1.70M338.80,558.05l1.60,-1.70M346.80,558.05l1.60,-1.70M354.80,558.05l1.60,-1.70M362.80,558.05l1.60,-1.70M370.80,558.05l1.60,-1.70M378.80,558.05l1.60,-1.70M386.80,558.05l1.60,-1.70M394.80,558.05l1.60,-1.70M402.80,558.05l1.60,-1.70M410.80,558.05l1.60,-1.70M418.80,558.05l1.60,-1.70M426.80,558.05l1.60,-1.70M434.80,558.05l1.60,-1.70M442.80,558.05l1.60,-1.70M450.80,558.05l1.60,-1.70M458.80,558.05l1.60,-1.70M466.80,558.05l1.60,-1.70M474.80,558.05l1.60,-1.70M322.80,565.55l1.60,-1.70M330.80,565.55l1.60,-1.70M338.80,565.55l1.60,-1.70M346.80,565.55l1.60,-1.70M354.80,565.55l1.60,-1.70M362.80,565.55l1.60,-1.70M370.80,565.55l1.60,-1.70M378.80,565.55l1.60,-1.70M386.80,565.55l1.60,-1.70M394.80,565.55l1.60,-1.70M402.80,565.55l1.60,-1.70M410.80,565.55l1.60,-1.70M418.80,565.55l1.60,-1.70M426.80,565.55l1.60,-1.70M434.80,565.55l1.60,-1.70M442.80,565.55l1.60,-1.70M450.80,565.55l1.60,-1.70M458.80,565.55l1.60,-1.70M466.80,565.55l1.60,-1.70M474.80,565.55l1.60,-1.70" stroke="#c2c2c2" stroke-width="2.0" stroke-linecap="round" fill="none"/>
<path d="M645.20,515.15l1.60,1.70M653.20,515.15l1.60,1.70M661.20,515.15l1.60,1.70M669.20,515.15l1.60,1.70M677.20,515.15l1.60,1.70M645.20,522.65l1.60,1.70M653.20,522.65l1.60,1.70M661.20,522.65l1.60,1.70M669.20,522.65l1.60,1.70M677.20,522.65l1.60,1.70M645.20,530.15l1.60,1.70M653.20,530.15l1.60,1.70M661.20,530.15l1.60,1.70M669.20,530.15l1.60,1.70M677.20,530.15l1.60,1.70M645.20,537.65l1.60,1.70M653.20,537.65l1.60,1.70M661.20,537.65l1.60,1.70M669.20,537.65l1.60,1.70M677.20,537.65l1.60,1.70M645.20,545.15l1.60,1.70M653.20,545.15l1.60,1.70M661.20,545.15l1.60,1.70M669.20,545.15l1.60,1.70M677.20,545.15l1.60,1.70M645.20,552.65l1.60,1.70M653.20,552.65l1.60,1.70M661.20,552.65l1.60,1.70M669.20,552.65l1.60,1.70M677.20,552.65l1.60,1.70M645.20,560.15l1.60,1.70M653.20,560.15l1.60,1.70M661.20,560.15l1.60,1.70M669.20,560.15l1.60,1.70M677.20,560.15l1.60,1.70M649.20,520.55l1.60,-1.70M657.20,520.55l1.60,-1.70M665.20,520.55l1.60,-1.70M673.20,520.55l1.60,-1.70M681.20,520.55l1.60,-1.70M649.20,528.05l1.60,-1.70M657.20,528.05l1.60,-1.70M665.20,528.05l1.60,-1.70M673.20,528.05l1.60,-1.70M681.20,528.05l1.60,-1.70M649.20,535.55l1.60,-1.70M657.20,535.55l1.60,-1.70M665.20,535.55l1.60,-1.70M673.20,535.55l1.60,-1.70M681.20,535.55l1.60,-1.70M649.20,543.05l1.60,-1.70M657.20,543.05l1.60,-1.70M665.20,543.05l1.60,-1.70M673.20,543.05l1.60,-1.70M681.20,543.05l1.60,-1.70M649.20,550.55l1.60,-1.70M657.20,550.55l1.60,-1.70M665.20,550.55l1.60,-1.70M673.20,550.55l1.60,-1.70M681.20,550.55l1.60,-1.70M649.20,558.05l1.60,-1.70M657.20,558.05l1.60,-1.70M665.20,558.05l1.60,-1.70M673.20,558.05l1.60,-1.70M681.20,558.05l1.60,-1.70M649.20,565.55l1.60,-1.70M657.20,565.55l1.60,-1.70M665.20,565.55l1.60,-1.70M673.20,565.55l1.60,-1.70M681.20,565.55l1.60,-1.70" stroke="#c2c2c2" stroke-width="2.0" stroke-linecap="round" fill="none"/>
<path d="M695.90,515.15l1.60,1.70M703.90,515.15l1.60,1.70M711.90,515.15l1.60,1.70M695.90,522.65l1.60,1.70M703.90,522.65l1.60,1.70M711.90,522.65l1.60,1.70M695.90,530.15l1.60,1.70M703.90,530.15l1.60,1.70M711.90,530.15l1.60,1.70M695.90,537.65l1.60,1.70M703.90,537.65l1.60,1.70M711.90,537.65l1.60,1.70M695.90,545.15l1.60,1.70M703.90,545.15l1.60,1.70M711.90,545.15l1.60,1.70M695.90,552.65l1.60,1.70M703.90,552.65l1.60,1.70M711.90,552.65l1.60,1.70M695.90,560.15l1.60,1.70M703.90,560.15l1.60,1.70M711.90,560.15l1.60,1.70M691.90,520.55l1.60,-1.70M699.90,520.55l1.60,-1.70M707.90,520.55l1.60,-1.70M691.90,528.05l1.60,-1.70M699.90,528.05l1.60,-1.70M707.90,528.05l1.60,-1.70M691.90,535.55l1.60,-1.70M699.90,535.55l1.60,-1.70M707.90,535.55l1.60,-1.70M691.90,543.05l1.60,-1.70M699.90,543.05l1.60,-1.70M707.90,543.05l1.60,-1.70M691.90,550.55l1.60,-1.70M699.90,550.55l1.60,-1.70M707.90,550.55l1.60,-1.70M691.90,558.05l1.60,-1.70M699.90,558.05l1.60,-1.70M707.90,558.05l1.60,-1.70M691.90,565.55l1.60,-1.70M699.90,565.55l1.60,-1.70M707.90,565.55l1.60,-1.70" stroke="#c2c2c2" stroke-width="2.0" stroke-linecap="round" fill="none"/>
<path d="M721.90,515.15l1.60,1.70M729.90,515.15l1.60,1.70M737.90,515.15l1.60,1.70M745.90,515.15l1.60,1.70M753.90,515.15l1.60,1.70M761.90,515.15l1.60,1.70M769.90,515.15l1.60,1.70M777.90,515.15l1.60,1.70M785.90,515.15l1.60,1.70M793.90,515.15l1.60,1.70M801.90,515.15l1.60,1.70M809.90,515.15l1.60,1.70M817.90,515.15l1.60,1.70M825.90,515.15l1.60,1.70M833.90,515.15l1.60,1.70M841.90,515.15l1.60,1.70M721.90,522.65l1.60,1.70M729.90,522.65l1.60,1.70M737.90,522.65l1.60,1.70M745.90,522.65l1.60,1.70M753.90,522.65l1.60,1.70M761.90,522.65l1.60,1.70M769.90,522.65l1.60,1.70M777.90,522.65l1.60,1.70M785.90,522.65l1.60,1.70M793.90,522.65l1.60,1.70M801.90,522.65l1.60,1.70M809.90,522.65l1.60,1.70M817.90,522.65l1.60,1.70M825.90,522.65l1.60,1.70M833.90,522.65l1.60,1.70M841.90,522.65l1.60,1.70M721.90,530.15l1.60,1.70M729.90,530.15l1.60,1.70M737.90,530.15l1.60,1.70M745.90,530.15l1.60,1.70M753.90,530.15l1.60,1.70M761.90,530.15l1.60,1.70M769.90,530.15l1.60,1.70M777.90,530.15l1.60,1.70M785.90,530.15l1.60,1.70M793.90,530.15l1.60,1.70M801.90,530.15l1.60,1.70M809.90,530.15l1.60,1.70M817.90,530.15l1.60,1.70M825.90,530.15l1.60,1.70M833.90,530.15l1.60,1.70M841.90,530.15l1.60,1.70M721.90,537.65l1.60,1.70M729.90,537.65l1.60,1.70M737.90,537.65l1.60,1.70M745.90,537.65l1.60,1.70M753.90,537.65l1.60,1.70M761.90,537.65l1.60,1.70M769.90,537.65l1.60,1.70M777.90,537.65l1.60,1.70M785.90,537.65l1.60,1.70M793.90,537.65l1.60,1.70M801.90,537.65l1.60,1.70M809.90,537.65l1.60,1.70M817.90,537.65l1.60,1.70M825.90,537.65l1.60,1.70M833.90,537.65l1.60,1.70M841.90,537.65l1.60,1.70M721.90,545.15l1.60,1.70M729.90,545.15l1.60,1.70M737.90,545.15l1.60,1.70M745.90,545.15l1.60,1.70M753.90,545.15l1.60,1.70M761.90,545.15l1.60,1.70M769.90,545.15l1.60,1.70M777.90,545.15l1.60,1.70M785.90,545.15l1.60,1.70M793.90,545.15l1.60,1.70M801.90,545.15l1.60,1.70M809.90,545.15l1.60,1.70M817.90,545.15l1.60,1.70M825.90,545.15l1.60,1.70M833.90,545.15l1.60,1.70M841.90,545.15l1.60,1.70M721.90,552.65l1.60,1.70M729.90,552.65l1.60,1.70M737.90,552.65l1.60,1.70M745.90,552.65l1.60,1.70M753.90,552.65l1.60,1.70M761.90,552.65l1.60,1.70M769.90,552.65l1.60,1.70M777.90,552.65l1.60,1.70M785.90,552.65l1.60,1.70M793.90,552.65l1.60,1.70M801.90,552.65l1.60,1.70M809.90,552.65l1.60,1.70M817.90,552.65l1.60,1.70M825.90,552.65l1.60,1.70M833.90,552.65l1.60,1.70M841.90,552.65l1.60,1.70M721.90,560.15l1.60,1.70M729.90,560.15l1.60,1.70M737.90,560.15l1.60,1.70M745.90,560.15l1.60,1.70M753.90,560.15l1.60,1.70M761.90,560.15l1.60,1.70M769.90,560.15l1.60,1.70M777.90,560.15l1.60,1.70M785.90,560.15l1.60,1.70M793.90,560.15l1.60,1.70M801.90,560.15l1.60,1.70M809.90,560.15l1.60,1.70M817.90,560.15l1.60,1.70M825.90,560.15l1.60,1.70M833.90,560.15l1.60,1.70M841.90,560.15l1.60,1.70M725.90,520.55l1.60,-1.70M733.90,520.55l1.60,-1.70M741.90,520.55l1.60,-1.70M749.90,520.55l1.60,-1.70M757.90,520.55l1.60,-1.70M765.90,520.55l1.60,-1.70M773.90,520.55l1.60,-1.70M781.90,520.55l1.60,-1.70M789.90,520.55l1.60,-1.70M797.90,520.55l1.60,-1.70M805.90,520.55l1.60,-1.70M813.90,520.55l1.60,-1.70M821.90,520.55l1.60,-1.70M829.90,520.55l1.60,-1.70M837.90,520.55l1.60,-1.70M725.90,528.05l1.60,-1.70M733.90,528.05l1.60,-1.70M741.90,528.05l1.60,-1.70M749.90,528.05l1.60,-1.70M757.90,528.05l1.60,-1.70M765.90,528.05l1.60,-1.70M773.90,528.05l1.60,-1.70M781.90,528.05l1.60,-1.70M789.90,528.05l1.60,-1.70M797.90,528.05l1.60,-1.70M805.90,528.05l1.60,-1.70M813.90,528.05l1.60,-1.70M821.90,528.05l1.60,-1.70M829.90,528.05l1.60,-1.70M837.90,528.05l1.60,-1.70M725.90,535.55l1.60,-1.70M733.90,535.55l1.60,-1.70M741.90,535.55l1.60,-1.70M749.90,535.55l1.60,-1.70M757.90,535.55l1.60,-1.70M765.90,535.55l1.60,-1.70M773.90,535.55l1.60,-1.70M781.90,535.55l1.60,-1.70M789.90,535.55l1.60,-1.70M797.90,535.55l1.60,-1.70M805.90,535.55l1.60,-1.70M813.90,535.55l1.60,-1.70M821.90,535.55l1.60,-1.70M829.90,535.55l1.60,-1.70M837.90,535.55l1.60,-1.70M725.90,543.05l1.60,-1.70M733.90,543.05l1.60,-1.70M741.90,543.05l1.60,-1.70M749.90,543.05l1.60,-1.70M757.90,543.05l1.60,-1.70M765.90,543.05l1.60,-1.70M773.90,543.05l1.60,-1.70M781.90,543.05l1.60,-1.70M789.90,543.05l1.60,-1.70M797.90,543.05l1.60,-1.70M805.90,543.05l1.60,-1.70M813.90,543.05l1.60,-1.70M821.90,543.05l1.60,-1.70M829.90,543.05l1.60,-1.70M837.90,543.05l1.60,-1.70M725.90,550.55l1.60,-1.70M733.90,550.55l1.60,-1.70M741.90,550.55l1.60,-1.70M749.90,550.55l1.60,-1.70M757.90,550.55l1.60,-1.70M765.90,550.55l1.60,-1.70M773.90,550.55l1.60,-1.70M781.90,550.55l1.60,-1.70M789.90,550.55l1.60,-1.70M797.90,550.55l1.60,-1.70M805.90,550.55l1.60,-1.70M813.90,550.55l1.60,-1.70M821.90,550.55l1.60,-1.70M829.90,550.55l1.60,-1.70M837.90,550.55l1.60,-1.70M725.90,558.05l1.60,-1.70M733.90,558.05l1.60,-1.70M741.90,558.05l1.60,-1.70M749.90,558.05l1.60,-1.70M757.90,558.05l1.60,-1.70M765.90,558.05l1.60,-1.70M773.90,558.05l1.60,-1.70M781.90,558.05l1.60,-1.70M789.90,558.05l1.60,-1.70M797.90,558.05l1.60,-1.70M805.90,558.05l1.60,-1.70M813.90,558.05l1.60,-1.70M821.90,558.05l1.60,-1.70M829.90,558.05l1.60,-1.70M837.90,558.05l1.60,-1.70M725.90,565.55l1.60,-1.70M733.90,565.55l1.60,-1.70M741.90,565.55l1.60,-1.70M749.90,565.55l1.60,-1.70M757.90,565.55l1.60,-1.70M765.90,565.55l1.60,-1.70M773.90,565.55l1.60,-1.70M781.90,565.55l1.60,-1.70M789.90,565.55l1.60,-1.70M797.90,565.55l1.60,-1.70M805.90,565.55l1.60,-1.70M813.90,565.55l1.60,-1.70M821.90,565.55l1.60,-1.70M829.90,565.55l1.60,-1.70M837.90,565.55l1.60,-1.70" stroke="#c2c2c2" stroke-width="2.0" stroke-linecap="round" fill="none"/>
<rect x="167.1" y="510.4" width="679.6" height="59.80000000000007" stroke="#2a2a2a" stroke-width="1.3" fill="none" />
<rect x="156" y="515.6" width="11.1" height="49.69999999999993" stroke="#2a2a2a" stroke-width="1.4" fill="#fff" />
<line x1="209.6" y1="510.4" x2="209.6" y2="570.2" stroke="#2a2a2a" stroke-width="1.2" />
<line x1="219.3" y1="510.4" x2="219.3" y2="570.2" stroke="#2a2a2a" stroke-width="1.2" />
<line x1="228.9" y1="510.4" x2="228.9" y2="570.2" stroke="#2a2a2a" stroke-width="1.2" />
<line x1="258.4" y1="510.4" x2="258.4" y2="570.2" stroke="#2a2a2a" stroke-width="1.2" />
<line x1="287.8" y1="510.4" x2="287.8" y2="570.2" stroke="#2a2a2a" stroke-width="1.2" />
<line x1="317.8" y1="510.4" x2="317.8" y2="570.2" stroke="#2a2a2a" stroke-width="1.2" />
<line x1="483" y1="510.4" x2="483" y2="570.2" stroke="#2a2a2a" stroke-width="1.2" />
<line x1="639.3" y1="510.4" x2="639.3" y2="570.2" stroke="#2a2a2a" stroke-width="1.2" />
<line x1="688.3" y1="510.4" x2="688.3" y2="570.2" stroke="#2a2a2a" stroke-width="1.2" />
<line x1="717.3" y1="510.4" x2="717.3" y2="570.2" stroke="#2a2a2a" stroke-width="1.2" />
<line x1="483" y1="515.7" x2="639.3" y2="515.7" stroke="#2a2a2a" stroke-width="1.2" />
<line x1="483" y1="565" x2="639.3" y2="565" stroke="#2a2a2a" stroke-width="1.2" />
<line x1="167.9" y1="300" x2="167.9" y2="320.3" stroke="#0aa8f0" stroke-width="1.2" />
<line x1="317.5" y1="300" x2="317.5" y2="320.3" stroke="#0aa8f0" stroke-width="1.2" />
<line x1="483.5" y1="300" x2="483.5" y2="320.3" stroke="#0aa8f0" stroke-width="1.2" />
<line x1="639.2" y1="300" x2="639.2" y2="320.3" stroke="#0aa8f0" stroke-width="1.2" />
<line x1="688" y1="300" x2="688" y2="320.3" stroke="#0aa8f0" stroke-width="1.2" />
<line x1="167.9" y1="304.5" x2="218.6" y2="304.5" stroke="#0aa8f0" stroke-width="1.3" />
<line x1="265.8" y1="304.5" x2="317.5" y2="304.5" stroke="#0aa8f0" stroke-width="1.3" />
<polygon points="167.9,304.5 174.20000000000002,300.9 173.5,304.5 174.20000000000002,308.1" fill="#0aa8f0"/>
<polygon points="317.5,304.5 311.2,300.9 311.9,304.5 311.2,308.1" fill="#0aa8f0"/>
<text x="224.13" y="309.50" font-size="15.00" fill="#0aa8f0" textLength="35.64" lengthAdjust="spacingAndGlyphs">154,5</text>
<line x1="317.5" y1="304.5" x2="382.7" y2="304.5" stroke="#0aa8f0" stroke-width="1.3" />
<line x1="418" y1="304.5" x2="483.5" y2="304.5" stroke="#0aa8f0" stroke-width="1.3" />
<polygon points="317.5,304.5 323.8,300.9 323.1,304.5 323.8,308.1" fill="#0aa8f0"/>
<polygon points="483.5,304.5 477.2,300.9 477.9,304.5 477.2,308.1" fill="#0aa8f0"/>
<text x="387.93" y="309.50" font-size="15.00" fill="#0aa8f0" textLength="23.72" lengthAdjust="spacingAndGlyphs">169</text>
<line x1="483.5" y1="304.5" x2="542.7" y2="304.5" stroke="#0aa8f0" stroke-width="1.3" />
<line x1="578.7" y1="304.5" x2="639.2" y2="304.5" stroke="#0aa8f0" stroke-width="1.3" />
<polygon points="483.5,304.5 489.8,300.9 489.1,304.5 489.8,308.1" fill="#0aa8f0"/>
<polygon points="639.2,304.5 632.9000000000001,300.9 633.6,304.5 632.9000000000001,308.1" fill="#0aa8f0"/>
<text x="548.18" y="309.50" font-size="15.00" fill="#0aa8f0" textLength="24.89" lengthAdjust="spacingAndGlyphs">160</text>
<line x1="639.2" y1="304.5" x2="644" y2="304.5" stroke="#0aa8f0" stroke-width="1.3" />
<line x1="680.5" y1="304.5" x2="688" y2="304.5" stroke="#0aa8f0" stroke-width="1.3" />
<polygon points="639.2,304.5 645.5,300.9 644.8000000000001,304.5 645.5,308.1" fill="#0aa8f0"/>
<polygon points="688,304.5 681.7,300.9 682.4,304.5 681.7,308.1" fill="#0aa8f0"/>
<text x="647.64" y="309.50" font-size="15.00" fill="#0aa8f0" textLength="31.02" lengthAdjust="spacingAndGlyphs">48,5</text>
<line x1="167.1" y1="350" x2="209.6" y2="350" stroke="#0aa8f0" stroke-width="1.3" />
<polygon points="167.1,350 173.4,346.4 172.7,350 173.4,353.6" fill="#0aa8f0"/>
<polygon points="209.6,350 203.29999999999998,346.4 204.0,350 203.29999999999998,353.6" fill="#0aa8f0"/>
<text x="173.86" y="366.60" font-size="15.00" fill="#0aa8f0" textLength="29.47" lengthAdjust="spacingAndGlyphs">42,5</text>
<line x1="228.9" y1="383.3" x2="228.9" y2="400" stroke="#0aa8f0" stroke-width="1.2" />
<line x1="317.5" y1="383.3" x2="317.5" y2="400" stroke="#0aa8f0" stroke-width="1.2" />
<line x1="228.9" y1="395.5" x2="246.6" y2="395.5" stroke="#0aa8f0" stroke-width="1.3" />
<line x1="299.9" y1="395.5" x2="317.5" y2="395.5" stroke="#0aa8f0" stroke-width="1.3" />
<polygon points="228.9,395.5 235.20000000000002,391.9 234.5,395.5 235.20000000000002,399.1" fill="#0aa8f0"/>
<polygon points="317.5,395.5 311.2,391.9 311.9,395.5 311.2,399.1" fill="#0aa8f0"/>
<text x="250.29" y="400.30" font-size="15.00" fill="#0aa8f0" textLength="46.03" lengthAdjust="spacingAndGlyphs">300×3</text>
<line x1="209.7" y1="491" x2="209.7" y2="510.4" stroke="#0aa8f0" stroke-width="1.2" />
<line x1="229.1" y1="491" x2="229.1" y2="510.4" stroke="#0aa8f0" stroke-width="1.2" />
<line x1="209.7" y1="494.8" x2="229.1" y2="494.8" stroke="#0aa8f0" stroke-width="1.3" />
<polygon points="209.7,494.8 216.0,491.2 215.29999999999998,494.8 216.0,498.40000000000003" fill="#0aa8f0"/>
<polygon points="229.1,494.8 222.79999999999998,491.2 223.5,494.8 222.79999999999998,498.40000000000003" fill="#0aa8f0"/>
<text x="199.64" y="484.40" font-size="15.00" fill="#0aa8f0" textLength="43.56" lengthAdjust="spacingAndGlyphs">100×2</text>
<line x1="521.2" y1="383.3" x2="521.2" y2="434" stroke="#0aa8f0" stroke-width="1.3" />
<line x1="521.2" y1="455.5" x2="521.2" y2="506.7" stroke="#0aa8f0" stroke-width="1.3" />
<polygon points="521.2,383.3 517.6,389.6 521.2,388.90000000000003 524.8000000000001,389.6" fill="#0aa8f0"/>
<polygon points="521.2,506.7 517.6,500.4 521.2,501.09999999999997 524.8000000000001,500.4" fill="#0aa8f0"/>
<text x="482.35" y="449.70" font-size="15.00" fill="#0aa8f0" textLength="77.29" lengthAdjust="spacingAndGlyphs">800 - 102,5</text>
<line x1="513" y1="506.7" x2="529" y2="506.7" stroke="#0aa8f0" stroke-width="1.3" />
<rect x="343.5" y="531" width="30" height="20" fill="#fff"/>
<line x1="358.3" y1="510.7" x2="358.3" y2="528.7" stroke="#0aa8f0" stroke-width="1.3" />
<line x1="358.3" y1="552" x2="358.3" y2="570" stroke="#0aa8f0" stroke-width="1.3" />
<polygon points="358.3,510.7 354.7,517.0 358.3,516.3 361.90000000000003,517.0" fill="#0aa8f0"/>
<polygon points="358.3,570 354.7,563.7 358.3,564.4 361.90000000000003,563.7" fill="#0aa8f0"/>
<text x="345.03" y="545.40" font-size="15.00" fill="#0aa8f0" textLength="26.27" lengthAdjust="spacingAndGlyphs">61,6</text>
<line x1="350" y1="510.6" x2="366" y2="510.6" stroke="#0aa8f0" stroke-width="1.3" />
<line x1="350" y1="570.1" x2="366" y2="570.1" stroke="#0aa8f0" stroke-width="1.3" />
<line x1="846.7" y1="510.6" x2="875" y2="510.6" stroke="#0aa8f0" stroke-width="1.2" />
<line x1="846.7" y1="570.1" x2="875" y2="570.1" stroke="#0aa8f0" stroke-width="1.2" />
<line x1="869.8" y1="510.7" x2="869.8" y2="529.8" stroke="#0aa8f0" stroke-width="1.3" />
<line x1="869.8" y1="550.8" x2="869.8" y2="570" stroke="#0aa8f0" stroke-width="1.3" />
<polygon points="869.8,510.7 866.1999999999999,517.0 869.8,516.3 873.4,517.0" fill="#0aa8f0"/>
<polygon points="869.8,570 866.1999999999999,563.7 869.8,564.4 873.4,563.7" fill="#0aa8f0"/>
<text x="862.20" y="545.50" font-size="15.00" fill="#0aa8f0" textLength="16.58" lengthAdjust="spacingAndGlyphs">57</text>
<line x1="731" y1="597.3" x2="760" y2="597.3" stroke="#0aa8f0" stroke-width="1.2" />
<line x1="731" y1="648.4" x2="760" y2="648.4" stroke="#0aa8f0" stroke-width="1.2" />
<line x1="754.6" y1="597.3" x2="754.6" y2="614" stroke="#0aa8f0" stroke-width="1.3" />
<line x1="754.6" y1="632.4" x2="754.6" y2="648.4" stroke="#0aa8f0" stroke-width="1.3" />
<polygon points="754.6,597.3 751.0,603.5999999999999 754.6,602.9 758.2,603.5999999999999" fill="#0aa8f0"/>
<polygon points="754.6,648.4 751.0,642.1 754.6,642.8 758.2,642.1" fill="#0aa8f0"/>
<text x="745.51" y="628.00" font-size="15.00" fill="#0aa8f0" textLength="17.60" lengthAdjust="spacingAndGlyphs">28</text>
<line x1="657.3" y1="603.3" x2="686" y2="603.3" stroke="#0aa8f0" stroke-width="1.2" />
<line x1="657.3" y1="642.4" x2="686" y2="642.4" stroke="#0aa8f0" stroke-width="1.2" />
<line x1="662.9" y1="603.3" x2="662.9" y2="613.7" stroke="#0aa8f0" stroke-width="1.3" />
<line x1="662.9" y1="632.4" x2="662.9" y2="642.4" stroke="#0aa8f0" stroke-width="1.3" />
<polygon points="662.9,603.3 659.3,609.5999999999999 662.9,608.9 666.5,609.5999999999999" fill="#0aa8f0"/>
<polygon points="662.9,642.4 659.3,636.1 662.9,636.8 666.5,636.1" fill="#0aa8f0"/>
<text x="654.32" y="628.00" font-size="15.00" fill="#0aa8f0" textLength="17.27" lengthAdjust="spacingAndGlyphs">23</text>
<line x1="680" y1="648.3" x2="680" y2="676.7" stroke="#0aa8f0" stroke-width="1.2" />
<line x1="731.3" y1="648.3" x2="731.3" y2="676.7" stroke="#0aa8f0" stroke-width="1.2" />
<line x1="680" y1="671.8" x2="693.7" y2="671.8" stroke="#0aa8f0" stroke-width="1.3" />
<line x1="717.2" y1="671.8" x2="731.3" y2="671.8" stroke="#0aa8f0" stroke-width="1.3" />
<polygon points="680,671.8 686.3,668.1999999999999 685.6,671.8 686.3,675.4" fill="#0aa8f0"/>
<polygon points="731.3,671.8 725.0,668.1999999999999 725.6999999999999,671.8 725.0,675.4" fill="#0aa8f0"/>
<text x="696.89" y="677.00" font-size="15.00" fill="#0aa8f0" textLength="17.93" lengthAdjust="spacingAndGlyphs">28</text>
<line x1="37.6" y1="241.8" x2="153.3" y2="241.8" stroke="#0aa8f0" stroke-width="1.2" />
<line x1="37.6" y1="647.6" x2="153.3" y2="647.6" stroke="#0aa8f0" stroke-width="1.2" />
<line x1="41.6" y1="241.8" x2="41.6" y2="433.3" stroke="#0aa8f0" stroke-width="1.3" />
<line x1="41.6" y1="454.6" x2="41.6" y2="647.6" stroke="#0aa8f0" stroke-width="1.3" />
<polygon points="41.6,241.8 38.0,248.10000000000002 41.6,247.4 45.2,248.10000000000002" fill="#0aa8f0"/>
<polygon points="41.6,647.6 38.0,641.3000000000001 41.6,642.0 45.2,641.3000000000001" fill="#0aa8f0"/>
<text x="22.12" y="449.10" font-size="15.00" fill="#0aa8f0" textLength="38.49" lengthAdjust="spacingAndGlyphs">346,5</text>
<line x1="96" y1="280.2" x2="166.3" y2="280.2" stroke="#0aa8f0" stroke-width="1.2" />
<line x1="96" y1="610.5" x2="166.3" y2="610.5" stroke="#0aa8f0" stroke-width="1.2" />
<line x1="100.3" y1="280.2" x2="100.3" y2="433.3" stroke="#0aa8f0" stroke-width="1.3" />
<line x1="100.3" y1="454.6" x2="100.3" y2="610.5" stroke="#0aa8f0" stroke-width="1.3" />
<polygon points="100.3,280.2 96.7,286.5 100.3,285.8 103.89999999999999,286.5" fill="#0aa8f0"/>
<polygon points="100.3,610.5 96.7,604.2 100.3,604.9 103.89999999999999,604.2" fill="#0aa8f0"/>
<text x="85.65" y="449.10" font-size="15.00" fill="#0aa8f0" textLength="29.02" lengthAdjust="spacingAndGlyphs">300</text>
<line x1="176.4" y1="717.5" x2="176.4" y2="784.4" stroke="#0aa8f0" stroke-width="1.2" />
<line x1="730" y1="739" x2="730" y2="784.4" stroke="#0aa8f0" stroke-width="1.2" />
<line x1="857.5" y1="717.3" x2="857.5" y2="1063.4" stroke="#0aa8f0" stroke-width="1.3" />
<line x1="176.4" y1="721.3" x2="433.3" y2="721.3" stroke="#0aa8f0" stroke-width="1.3" />
<line x1="473.3" y1="721.3" x2="857.5" y2="721.3" stroke="#0aa8f0" stroke-width="1.3" />
<polygon points="176.4,721.3 185.4,717.5 184.6,721.3 185.4,725.0999999999999" fill="#0aa8f0"/>
<polygon points="857.5,721.3 848.5,717.5 849.3,721.3 848.5,725.0999999999999" fill="#0aa8f0"/>
<text x="440.95" y="726.40" font-size="15.00" fill="#0aa8f0" textLength="25.00" lengthAdjust="spacingAndGlyphs">678</text>
<line x1="176.4" y1="747.2" x2="433.3" y2="747.2" stroke="#0aa8f0" stroke-width="1.3" />
<line x1="473.3" y1="747.2" x2="730" y2="747.2" stroke="#0aa8f0" stroke-width="1.3" />
<polygon points="176.4,747.2 185.4,743.4000000000001 184.6,747.2 185.4,751.0" fill="#0aa8f0"/>
<polygon points="730,747.2 721,743.4000000000001 721.8,747.2 721,751.0" fill="#0aa8f0"/>
<text x="441.10" y="752.40" font-size="15.00" fill="#0aa8f0" textLength="24.88" lengthAdjust="spacingAndGlyphs">579</text>
<line x1="48" y1="784.6" x2="177" y2="784.6" stroke="#0aa8f0" stroke-width="1.2" />
<line x1="114" y1="839.5" x2="203.3" y2="839.5" stroke="#0aa8f0" stroke-width="1.2" />
<line x1="48" y1="1063.3" x2="397.5" y2="1063.3" stroke="#0aa8f0" stroke-width="1.3" />
<line x1="52.4" y1="784.6" x2="52.4" y2="941.7" stroke="#0aa8f0" stroke-width="1.3" />
<line x1="52.4" y1="961.1" x2="52.4" y2="1063.3" stroke="#0aa8f0" stroke-width="1.3" />
<polygon points="52.4,784.6 48.6,793.6 52.4,792.8000000000001 56.199999999999996,793.6" fill="#0aa8f0"/>
<polygon points="52.4,1063.3 48.6,1054.3 52.4,1055.1 56.199999999999996,1054.3" fill="#0aa8f0"/>
<text x="41.23" y="956.40" font-size="15.00" fill="#0aa8f0" textLength="22.46" lengthAdjust="spacingAndGlyphs">212</text>
<line x1="117.2" y1="839.5" x2="117.2" y2="941.7" stroke="#0aa8f0" stroke-width="1.3" />
<line x1="117.2" y1="961.1" x2="117.2" y2="1063.3" stroke="#0aa8f0" stroke-width="1.3" />
<polygon points="117.2,839.5 113.4,848.5 117.2,847.7 121.0,848.5" fill="#0aa8f0"/>
<polygon points="117.2,1063.3 113.4,1054.3 117.2,1055.1 121.0,1054.3" fill="#0aa8f0"/>
<text x="104.57" y="956.40" font-size="15.00" fill="#0aa8f0" textLength="23.00" lengthAdjust="spacingAndGlyphs">175</text>
<line x1="203.3" y1="1034.4" x2="348.3" y2="1034.4" stroke="#9a9a9a" stroke-width="1.3" />
<line x1="348.3" y1="1033.5" x2="529.3" y2="1033.5" stroke="#9a9a9a" stroke-width="1.3" />
<line x1="529.3" y1="1034.4" x2="650.8" y2="1034.4" stroke="#9a9a9a" stroke-width="1.3" />
<line x1="650.8" y1="1033.5" x2="703.6" y2="1033.5" stroke="#9a9a9a" stroke-width="1.3" />
<line x1="348.3" y1="1033.5" x2="348.3" y2="1040" stroke="#9a9a9a" stroke-width="1.3" />
<line x1="529.3" y1="1033.5" x2="529.3" y2="1040" stroke="#9a9a9a" stroke-width="1.3" />
<line x1="650.8" y1="1033.5" x2="650.8" y2="1040" stroke="#9a9a9a" stroke-width="1.3" />
<line x1="203.3" y1="1040" x2="703.6" y2="1040" stroke="#9a9a9a" stroke-width="1.3" />
<line x1="203.3" y1="1056.4" x2="703.6" y2="1056.4" stroke="#777" stroke-width="1.3" />
<line x1="203.3" y1="840.2" x2="348.3" y2="840.2" stroke="#3a3a3a" stroke-width="1.3" />
<line x1="348.3" y1="839.3" x2="529.3" y2="839.3" stroke="#3a3a3a" stroke-width="1.3" />
<line x1="529.3" y1="840.2" x2="650.8" y2="840.2" stroke="#3a3a3a" stroke-width="1.3" />
<line x1="650.8" y1="839.3" x2="703.6" y2="839.3" stroke="#3a3a3a" stroke-width="1.3" />
<line x1="348.3" y1="839.3" x2="348.3" y2="845.6" stroke="#3a3a3a" stroke-width="1.3" />
<line x1="529.3" y1="839.3" x2="529.3" y2="845.6" stroke="#3a3a3a" stroke-width="1.3" />
<line x1="650.8" y1="839.3" x2="650.8" y2="845.6" stroke="#3a3a3a" stroke-width="1.3" />
<line x1="203.3" y1="845.6" x2="703.6" y2="845.6" stroke="#3a3a3a" stroke-width="1.3" />
<line x1="203.3" y1="862.2" x2="703.6" y2="862.2" stroke="#3a3a3a" stroke-width="1.3" />
<rect x="177" y="784.4" width="26.30000000000001" height="275.0000000000001" stroke="#3a3a3a" stroke-width="1.3" fill="none" />
<line x1="177" y1="803.2" x2="203.3" y2="803.2" stroke="#3a3a3a" stroke-width="1.3" />
<rect x="703.6" y="784.4" width="26.5" height="275.0000000000001" stroke="#3a3a3a" stroke-width="1.3" fill="none" />
<line x1="703.6" y1="803.2" x2="730.1" y2="803.2" stroke="#3a3a3a" stroke-width="1.3" />
<rect x="164.2" y="1059.4" width="51.4" height="3.9" stroke="#111" stroke-width="1.3" fill="#fff" />
<rect x="691" y="1059.3" width="51.5" height="4.1" stroke="#111" stroke-width="1.3" fill="#fff" />
<path d="M164.4,830.6 Q166,825 168,826 L175,845.6" stroke="#222" stroke-width="1.2" fill="none"/>
<rect x="174.2" y="845.6" width="2.8" height="16.4" stroke="#222" stroke-width="1.1" fill="none" />
<path d="M164.4,1025 Q166,1019.5 168.5,1020.5 L175,1040" stroke="#999" stroke-width="1.1" fill="none"/>
<rect x="174.2" y="1040" width="2.8" height="16.4" stroke="#999" stroke-width="1.0" fill="none" />
<path d="M730,834.3 L774.3,944.1 M730,869 L741.1,894.1 L774.3,944.1" stroke="#222" stroke-width="1.1" fill="none"/>
<circle cx="774.3" cy="944.1" r="2" stroke="#222" stroke-width="1" fill="none"/>
<path d="M730,1037.7 L859.2,1063.4 M730,1051.5 L799,1063.4 L859.2,1063.4" stroke="#777" stroke-width="1" fill="none"/>
<circle cx="859.2" cy="1063.4" r="2" stroke="#777" stroke-width="1" fill="none"/>
<line x1="376.7" y1="1018.3" x2="376.7" y2="1034" stroke="#0aa8f0" stroke-width="1.3" />
<polygon points="376.7,1034 372.9,1025 376.7,1025.8 380.5,1025" fill="#0aa8f0"/>
<line x1="355.8" y1="1034" x2="397.5" y2="1034" stroke="#0aa8f0" stroke-width="1.4" />
<line x1="376.7" y1="1063.3" x2="376.7" y2="1078.3" stroke="#0aa8f0" stroke-width="1.3" />
<polygon points="376.7,1063.3 372.9,1072.3 376.7,1071.5 380.5,1072.3" fill="#0aa8f0"/>
<text x="367.52" y="1053.40" font-size="15.00" fill="#0aa8f0" textLength="17.34" lengthAdjust="spacingAndGlyphs">25</text>
<rect x="111" y="321" width="676" height="551" fill="#000" fill-opacity="0.012"/>
<text x="50.14" y="1156.00" font-size="19.60" fill="#1e1e1e" textLength="200.00" lengthAdjust="spacingAndGlyphs">Размеры 4450J_EB(M)</text>
</svg>
</body></html>
